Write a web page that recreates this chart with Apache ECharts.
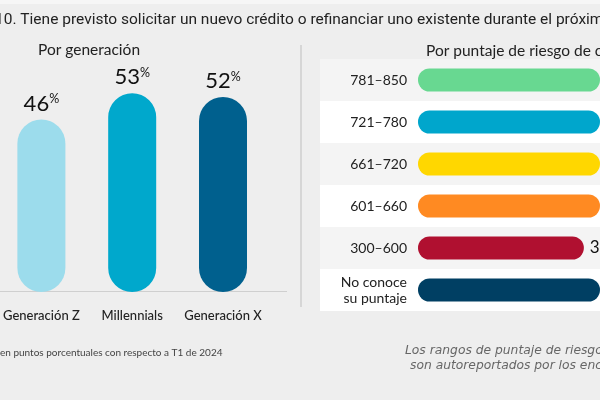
<!DOCTYPE html>
<html><head><meta charset="utf-8">
<script src="https://cdn.jsdelivr.net/npm/echarts@6/dist/echarts.min.js"></script>
<style>html,body{margin:0;padding:0;background:#eeeeee}#c{width:600px;height:400px}</style>
</head><body><div id="c"></div>
<script>
// ---- data ----
const genCategories = ['Generación Z', 'Millennials', 'Generación X'];
const genValues = [46, 53, 52];
const genColors = ['#9cdcec', '#00a8cc', '#00608e'];

const riskCategories = ['781–850', '721–780', '661–720', '601–660', '300–600', 'No conoce\nsu puntaje'];
const riskValues = [52, 55, 54, 50, 37, 48];
const riskColors = ['#68d891', '#00a6cc', '#ffd700', '#ff8a22', '#b01030', '#003f63'];

const titleText = '10. Tiene previsto solicitar un nuevo crédito o refinanciar uno existente durante el próximo año?';
const leftSubtitle = 'Por generación';
const rightSubtitle = 'Por puntaje de riesgo de crédito';
const leftNote = 'en puntos porcentuales con respecto a T1 de 2024';
const rightNote1 = 'Los rangos de puntaje de riesgo de crédito';
const rightNote2 = 'son autoreportados por los encuestados';

const FONT = 'Lato, sans-serif';
const chart = echarts.init(document.getElementById('c'), null, {renderer: 'canvas'});

// right panel geometry
const rTop = 59, rRowH = 42, rLeft = 320;
const rowRects = riskCategories.map((c, i) => ({
  type: 'rect', silent: true, z: -1,
  shape: {x: rLeft, y: rTop + i * rRowH, width: 400, height: rRowH},
  style: {fill: i % 2 === 0 ? '#f4f4f4' : '#ffffff'}
}));

chart.setOption({
  backgroundColor: '#eeeeee',
  animation: false,
  graphic: [
    {type: 'rect', silent: true, z: -2, shape: {x: 0, y: 0, width: 600, height: 4}, style: {fill: '#f6f6f6'}},
    {type: 'text', left: -5, top: 12, style: {text: titleText, font: '15.5px Roboto, sans-serif', fill: '#222'}},
    {type: 'text', left: 38, top: 42, style: {text: leftSubtitle, font: '15.5px ' + FONT, fill: '#222'}},
    {type: 'text', left: 426, top: 43, style: {text: rightSubtitle, font: '15.5px ' + FONT, fill: '#222'}},
    {type: 'line', silent: true, shape: {x1: 301, y1: 45, x2: 301, y2: 307}, style: {stroke: '#d6d6d6', lineWidth: 2}},
    {type: 'line', silent: true, shape: {x1: 0, y1: 291.5, x2: 287, y2: 291.5}, style: {stroke: '#cfcfcf', lineWidth: 1}},
    ...rowRects,
    {type: 'text', left: 0, top: 348, style: {text: leftNote, font: '10px ' + FONT, fill: '#444'}},
    {type: 'text', left: 405, top: 345, style: {text: rightNote1, font: 'oblique 12.3px "DejaVu Sans", sans-serif', fill: '#666'}},
    {type: 'text', left: 410, top: 360, style: {text: rightNote2, font: 'oblique 12.3px "DejaVu Sans", sans-serif', fill: '#666'}}
  ],
  grid: [
    {left: 36, width: 187, top: 67, height: 225},
    {left: 418, right: 0, top: rTop, height: rRowH * riskCategories.length}
  ],
  xAxis: [
    {gridIndex: 0, type: 'category', data: genCategories, boundaryGap: false,
     axisLine: {show: false}, axisTick: {show: false},
     axisLabel: {interval: 0, margin: 17, fontFamily: FONT, fontSize: 13, color: '#222', fontWeight: 500}},
    {gridIndex: 1, type: 'value', min: 0, max: 40.6, show: false}
  ],
  yAxis: [
    {gridIndex: 0, type: 'value', min: 0, max: 60, show: false},
    {gridIndex: 1, type: 'category', inverse: true, data: riskCategories,
     axisLine: {show: false}, axisTick: {show: false},
     axisLabel: {interval: 0, margin: 11, fontFamily: FONT, fontSize: 14, color: '#222', lineHeight: 16}}
  ],
  series: [
    {type: 'bar', xAxisIndex: 0, yAxisIndex: 0, barWidth: 48,
     data: genValues.map((v, i) => ({value: v, itemStyle: {color: genColors[i]}})),
     itemStyle: {borderRadius: 24},
     label: {show: true, position: 'top', distance: 5,
       formatter: p => '{v|' + p.value + '}{p|%}',
       rich: {v: {fontFamily: FONT, fontSize: 22, color: '#111'},
              p: {fontFamily: FONT, fontSize: 12.5, color: '#111', padding: [0, 0, 9, 0]}}}},
    {type: 'bar', xAxisIndex: 1, yAxisIndex: 1, barWidth: 23,
     data: riskValues.map((v, i) => ({value: v, itemStyle: {color: riskColors[i]}})),
     itemStyle: {borderRadius: 11.5},
     label: {show: true, position: 'right', distance: 6,
       formatter: p => '{v|' + p.value + '}{p|%}',
       rich: {v: {fontFamily: FONT, fontSize: 17, color: '#111'},
              p: {fontFamily: FONT, fontSize: 10, color: '#111', padding: [0, 0, 8, 0]}}}}
  ]
});
</script></body></html>
